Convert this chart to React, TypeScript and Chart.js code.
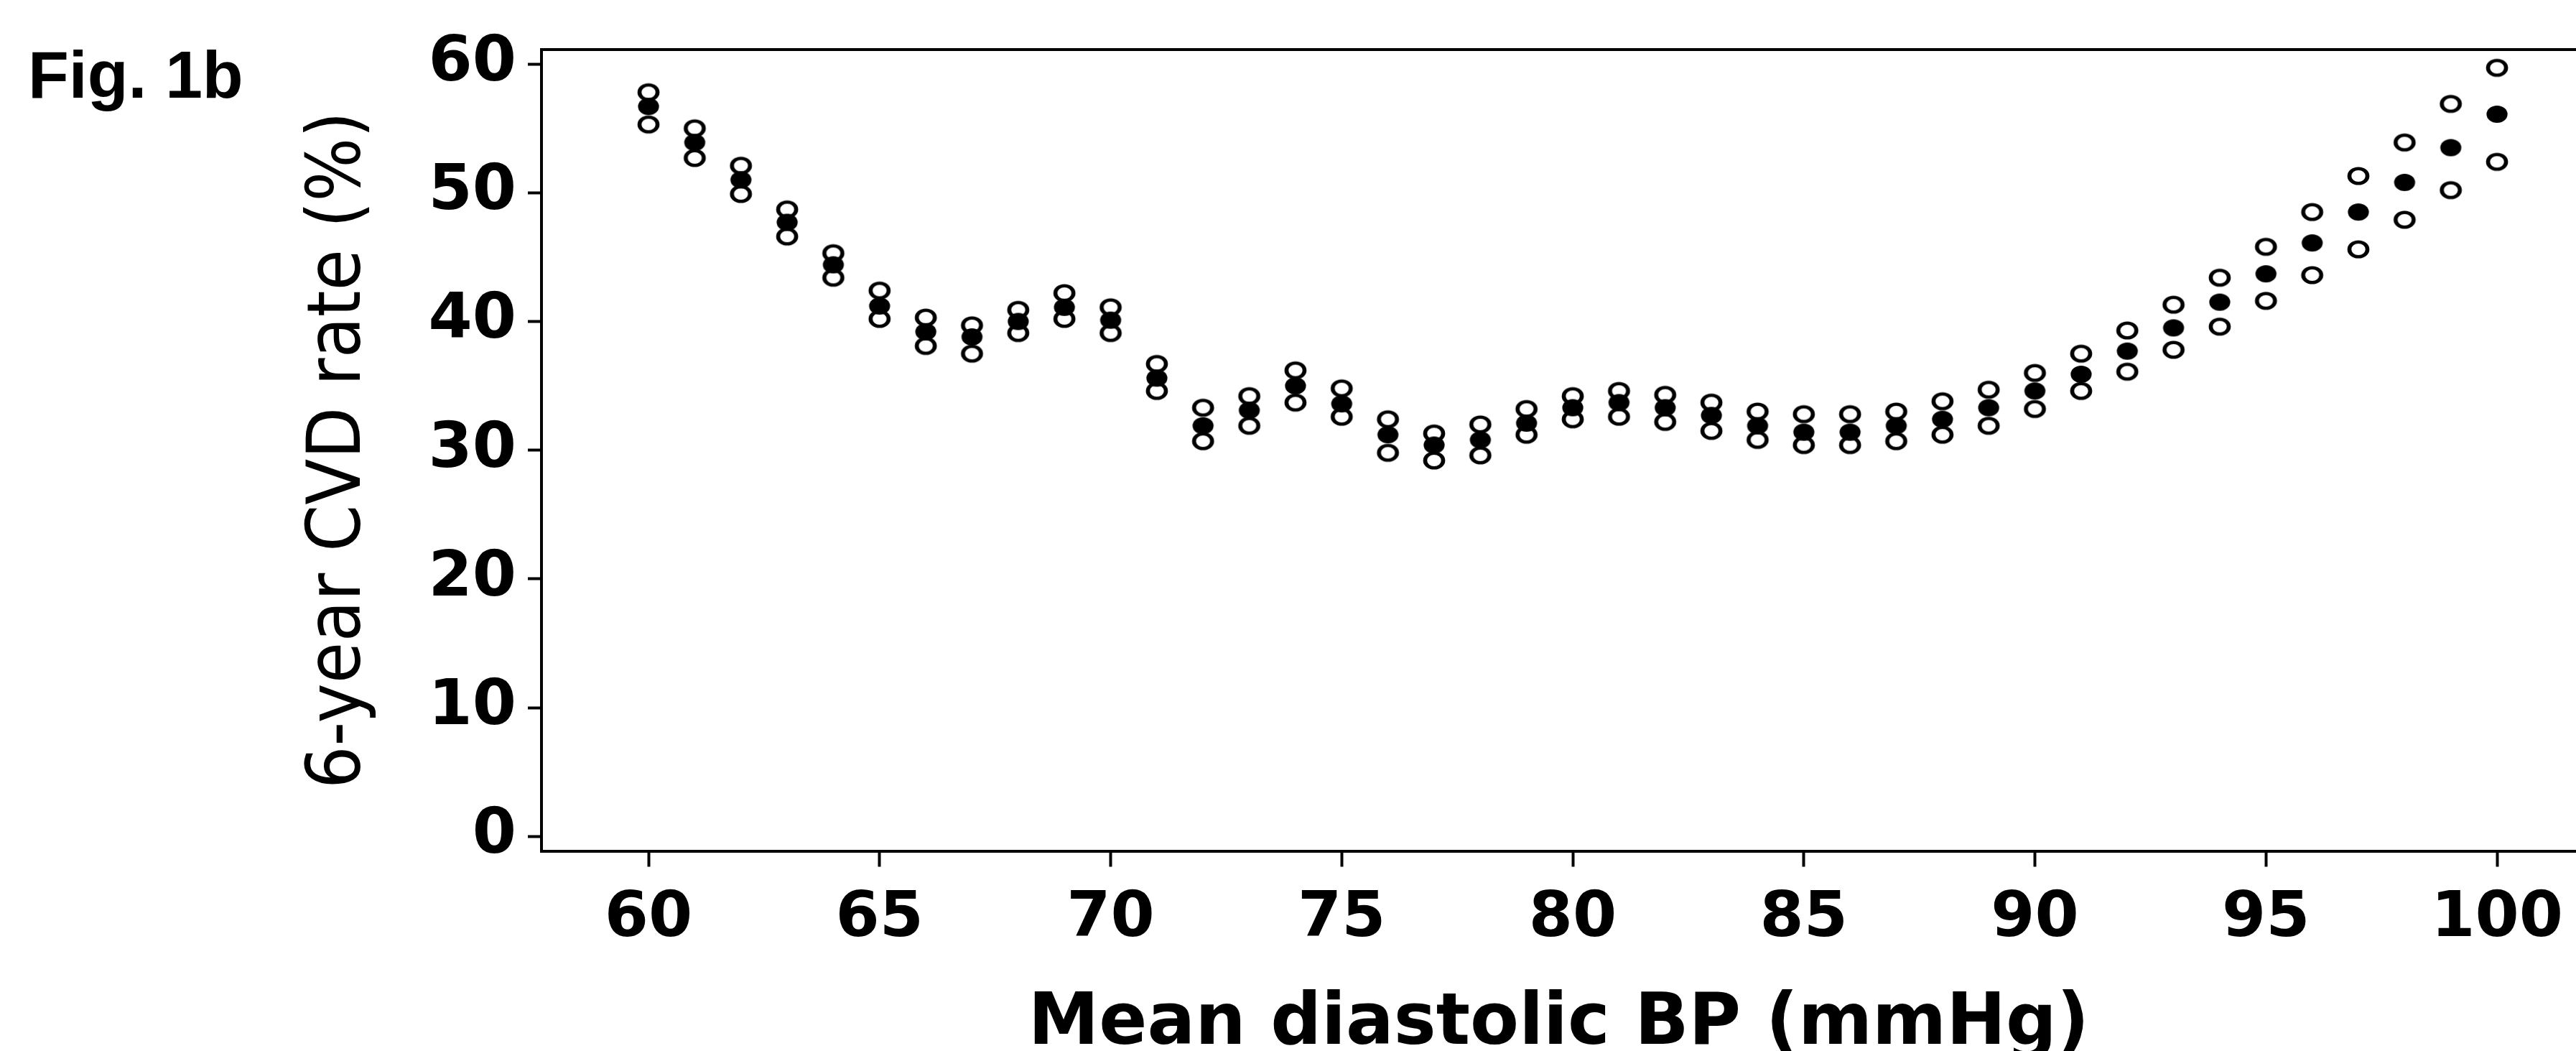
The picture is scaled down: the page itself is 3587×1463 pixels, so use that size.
import React, { useEffect, useRef } from "react";
import { Chart, registerables } from "chart.js";

Chart.register(...registerables);

// Mean diastolic BP (mmHg)
const bpValues: number[] = [
  60, 61, 62, 63, 64, 65, 66, 67, 68, 69, 70, 71, 72, 73, 74, 75, 76, 77, 78, 79, 80,
  81, 82, 83, 84, 85, 86, 87, 88, 89, 90, 91, 92, 93, 94, 95, 96, 97, 98, 99, 100,
];

// 6-year CVD rate (%) - upper bound (open markers)
const upperRates: number[] = [
  57.8, 55.0, 52.1, 48.7, 45.3, 42.4, 40.3, 39.7, 40.9, 42.2, 41.1, 36.7, 33.3, 34.2, 36.2, 34.8, 32.4, 31.3, 32.0, 33.2, 34.2,
  34.6, 34.3, 33.7, 33.0, 32.8, 32.8, 33.0, 33.8, 34.7, 36.0, 37.5, 39.3, 41.3, 43.4, 45.8, 48.5, 51.3, 53.9, 56.9, 59.7,
];

// 6-year CVD rate (%) - estimate (filled markers)
const meanRates: number[] = [
  56.7, 53.9, 51.0, 47.7, 44.4, 41.2, 39.2, 38.8, 40.0, 41.1, 40.1, 35.6, 31.9, 33.1, 35.0, 33.6, 31.2, 30.4, 30.8, 32.1, 33.3,
  33.7, 33.3, 32.7, 31.9, 31.4, 31.4, 31.9, 32.4, 33.3, 34.6, 35.9, 37.7, 39.5, 41.5, 43.7, 46.1, 48.5, 50.8, 53.5, 56.1,
];

// 6-year CVD rate (%) - lower bound (open markers)
const lowerRates: number[] = [
  55.3, 52.7, 49.9, 46.6, 43.4, 40.2, 38.1, 37.5, 39.1, 40.2, 39.1, 34.6, 30.7, 31.9, 33.7, 32.6, 29.8, 29.2, 29.6, 31.2, 32.4,
  32.6, 32.2, 31.5, 30.8, 30.4, 30.4, 30.7, 31.2, 31.9, 33.2, 34.6, 36.1, 37.8, 39.6, 41.6, 43.6, 45.6, 47.9, 50.2, 52.4,
];

const xTickValues: number[] = [60, 65, 70, 75, 80, 85, 90, 95, 100];
const yTickValues: number[] = [0, 10, 20, 30, 40, 50, 60];

const figLabel = "Fig. 1b";
const xTitle = "Mean diastolic BP (mmHg)";
const yTitle = "6-year CVD rate (%)";

const W = 3587;
const H = 1463;
const X_MIN = 57.684;
const X_MAX = 101.709;

function makeMarker(filled: boolean): HTMLCanvasElement {
  const c = document.createElement("canvas");
  c.width = 34;
  c.height = 28;
  const ctx = c.getContext("2d")!;
  ctx.save();
  ctx.translate(17, 14);
  ctx.scale(1.22, 1);
  ctx.beginPath();
  if (filled) {
    ctx.arc(0, 0, 12, 0, Math.PI * 2);
    ctx.fillStyle = "#000";
    ctx.fill();
  } else {
    ctx.arc(0, 0, 10.3, 0, Math.PI * 2);
    ctx.fillStyle = "#fff";
    ctx.fill();
    ctx.lineWidth = 4.6;
    ctx.strokeStyle = "#000";
    ctx.stroke();
  }
  ctx.restore();
  return c;
}

export default function App() {
  const ref = useRef<HTMLCanvasElement | null>(null);

  useEffect(() => {
    if (!ref.current) return;
    const openMarker = makeMarker(false);
    const filledMarker = makeMarker(true);
    const toPts = (arr: number[]) => bpValues.map((x, i) => ({ x, y: arr[i] }));

    const chart = new Chart(ref.current, {
      type: "scatter",
      data: {
        datasets: [
          {
            label: "Estimate",
            data: toPts(meanRates),
            pointStyle: filledMarker as any,
            pointRadius: 12,
            order: 0,
          },
          {
            label: "Upper",
            data: toPts(upperRates),
            pointStyle: openMarker as any,
            pointRadius: 12,
            order: 1,
          },
          {
            label: "Lower",
            data: toPts(lowerRates),
            pointStyle: openMarker as any,
            pointRadius: 12,
            order: 1,
          },
        ],
      },
      options: {
        responsive: false,
        maintainAspectRatio: false,
        devicePixelRatio: 1,
        animation: false,
        events: [],
        layout: { autoPadding: false, padding: { left: 39, top: 0, right: 0, bottom: 0 } },
        plugins: {
          legend: { display: false },
          tooltip: { enabled: false },
          title: {
            display: true,
            text: figLabel,
            align: "start",
            color: "#000",
            font: { family: "'Liberation Sans', Arial, sans-serif", weight: "bold", size: 93, lineHeight: 1 },
            padding: { top: 57.3, bottom: -88.3 },
          },
        },
        scales: {
          x: {
            type: "linear",
            position: "bottom",
            min: X_MIN,
            max: X_MAX,
            afterBuildTicks: (s: any) => {
              s.ticks = xTickValues.map((v) => ({ value: v }));
            },
            afterFit: (s: any) => {
              s.height = 278.5;
              s.paddingLeft = 0;
              s.paddingRight = 0;
            },
            grid: {
              display: true,
              drawOnChartArea: false,
              drawTicks: true,
              tickLength: 22,
              tickWidth: 4,
              tickColor: "#000",
            },
            border: { display: true, width: 4, color: "#000" },
            ticks: {
              color: "#000",
              padding: 21,
              maxRotation: 0,
              autoSkip: false,
              font: { family: "'DejaVu Sans', sans-serif", weight: "bold", size: 88, lineHeight: 1.2 },
            },
            title: {
              display: true,
              text: xTitle,
              color: "#000",
              font: { family: "'DejaVu Sans', sans-serif", weight: "bold", size: 99, lineHeight: 0.6 },
              padding: { top: 0, bottom: 6 },
            },
          },
          x2: {
            type: "linear",
            position: "top",
            display: true,
            min: X_MIN,
            max: X_MAX,
            afterFit: (s: any) => {
              s.height = 0;
              s.paddingLeft = 0;
              s.paddingRight = 0;
            },
            grid: { display: false, drawTicks: false },
            border: { display: true, width: 4, color: "#000" },
            ticks: { display: false },
          },
          y: {
            type: "linear",
            position: "left",
            min: -1.126,
            max: 61.13,
            afterBuildTicks: (s: any) => {
              s.ticks = yTickValues.map((v) => ({ value: v }));
            },
            afterFit: (s: any) => {
              s.width = 715;
            },
            grid: {
              display: true,
              drawOnChartArea: false,
              drawTicks: true,
              tickLength: 19,
              tickWidth: 4,
              tickColor: "#000",
            },
            border: { display: true, width: 4, color: "#000" },
            ticks: {
              color: "#000",
              padding: 16,
              autoSkip: false,
              font: { family: "'DejaVu Sans', sans-serif", weight: "bold", size: 88, lineHeight: 1.2 },
            },
            title: {
              display: true,
              text: yTitle,
              color: "#000",
              font: {
                family: "'DejaVu Sans Condensed', 'DejaVu Sans', sans-serif",
                weight: "normal",
                size: 104,
                lineHeight: 1.2,
              },
              padding: { top: 372.6, bottom: 0 },
            },
          },
        },
      } as any,
    });

    return () => {
      chart.destroy();
    };
  }, []);

  return (
    <div style={{ position: "absolute", left: 0, top: 0, width: W, height: H, background: "#fff", overflow: "hidden" }}>
      <canvas ref={ref} width={W} height={H} style={{ display: "block", width: W, height: H }} />
    </div>
  );
}
